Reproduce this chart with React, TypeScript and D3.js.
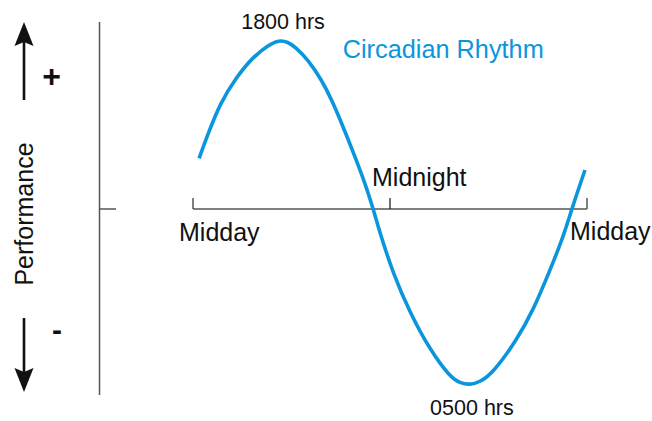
import React from "react";
import * as d3 from "d3";

// Hours of the day (12 = midday, 24 = midnight, 36 = next midday)
const hours = [12.37, 12.93, 13.65, 14.66, 15.67, 16.59, 17.24, 17.79, 18.21, 19.02, 19.84, 20.45, 21.06, 21.87, 22.48, 22.98, 23.39, 24.18, 25.22, 26.44, 27.66, 28.26, 28.87, 29.48, 30.27, 31.72, 32.73, 33.75, 34.56, 35.07, 35.88];
// Relative performance (arbitrary units, 0 = baseline)
const performance = [30, 44.8, 62.5, 78.3, 90.1, 97, 100, 98.8, 96, 88.2, 76.3, 64.5, 50.7, 30.9, 15.2, 0, -14.2, -37.9, -61.5, -83.4, -99.4, -103, -104.1, -102.4, -97, -77.5, -59.8, -36.1, -16.4, 0, 23.1];

const tickHours = [12, 24, 36];
const tickLabels = ["Midday", "Midnight", "Midday"];
const peakLabel = "1800 hrs";
const troughLabel = "0500 hrs";
const seriesName = "Circadian Rhythm";
const yTitle = "Performance";

const W = 652;
const H = 421;
const BLUE = "#0a96dc";
const FONT = "'Liberation Sans', Arial, sans-serif";

export default function App() {
  const x = d3.scaleLinear().domain([12, 36]).range([193, 587]);
  const y = d3.scaleLinear().domain([-100, 100]).range([378, 40]);

  const pts = hours.map((h, i) => [h, performance[i]] as [number, number]);
  const line = d3
    .line<[number, number]>()
    .x((d) => x(d[0]))
    .y((d) => y(d[1]))
    .curve(d3.curveBasis);

  const y0 = y(0);
  const peakI = performance.indexOf(d3.max(performance)!);
  const troughI = performance.indexOf(d3.min(performance)!);

  return (
    <svg
      width={W}
      height={H}
      style={{ position: "absolute", left: 0, top: 0, background: "#fff" }}
      fontFamily={FONT}
    >
      {/* left vertical axis */}
      <line x1={99.5} x2={99.5} y1={22} y2={395} stroke="#555" strokeWidth={1.5} />
      <line x1={99.5} x2={116} y1={y0} y2={y0} stroke="#555" strokeWidth={1.5} />

      {/* up arrow */}
      <line x1={24} x2={24} y1={100} y2={40} stroke="#111" strokeWidth={2.6} />
      <path d="M24,22 L33.5,46 L24,42 L14.5,46 Z" fill="#111" />
      <text x={51.5} y={87} fontSize={32} fontWeight="bold" textAnchor="middle" fill="#111">+</text>

      {/* down arrow */}
      <line x1={24} x2={24} y1={318} y2={375} stroke="#111" strokeWidth={2.6} />
      <path d="M24,392 L33.5,368 L24,372 L14.5,368 Z" fill="#111" />
      <text x={57} y={340} fontSize={30} fontWeight="bold" textAnchor="middle" fill="#111">-</text>

      <text
        transform={`translate(33,214) rotate(-90)`}
        textAnchor="middle"
        fontSize={25}
        fill="#111"
      >
        {yTitle}
      </text>

      {/* horizontal time axis */}
      <line x1={x(12)} x2={x(36)} y1={y0} y2={y0} stroke="#555" strokeWidth={1.5} />
      {tickHours.map((h, i) => (
        <line
          key={"t" + i}
          x1={x(h)}
          x2={x(h)}
          y1={y0}
          y2={y0 - 11}
          stroke={i === 1 ? "#111" : "#555"}
          strokeWidth={i === 1 ? 1.2 : 1.5}
        />
      ))}
      <text x={x(12) - 14} y={241} fontSize={25} fill="#111">{tickLabels[0]}</text>
      <text x={x(24) - 18} y={186} fontSize={25} fill="#111">{tickLabels[1]}</text>
      <text x={x(36) - 17} y={240} fontSize={25} fill="#111">{tickLabels[2]}</text>

      {/* curve */}
      <path d={line(pts) || ""} fill="none" stroke={BLUE} strokeWidth={3.6} strokeLinecap="butt" />

      <text x={x(hours[peakI]) + 4} y={29} fontSize={21.5} textAnchor="middle" fill="#111">{peakLabel}</text>
      <text x={x(hours[troughI]) + 2} y={415} fontSize={21.5} textAnchor="middle" fill="#111">{troughLabel}</text>
      <text x={342.7} y={57.7} fontSize={25.3} fill={BLUE}>{seriesName}</text>
    </svg>
  );
}
